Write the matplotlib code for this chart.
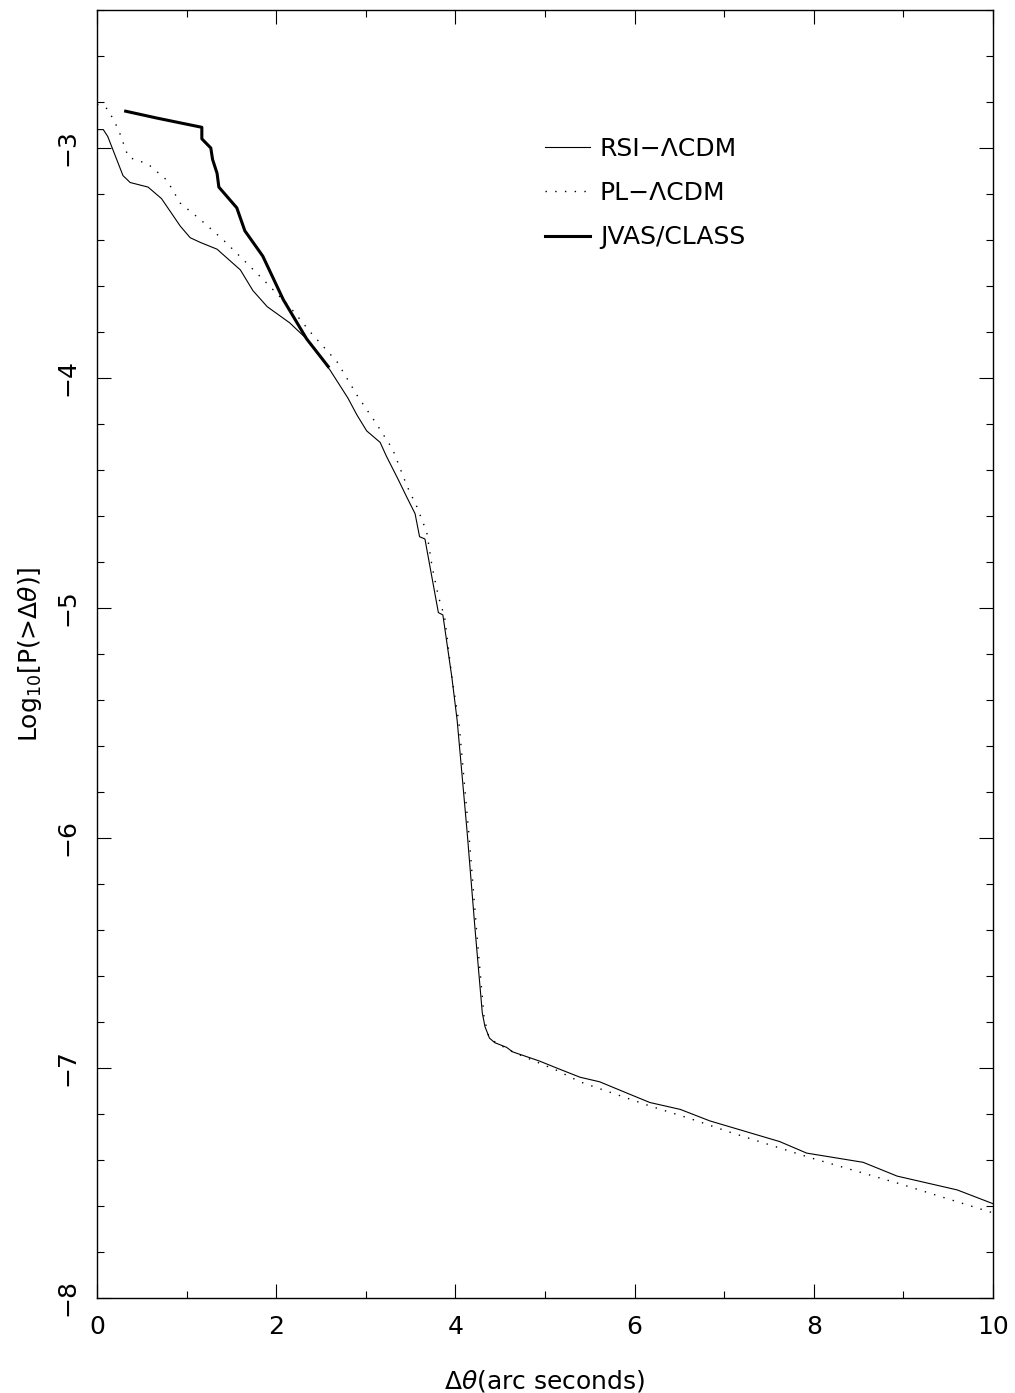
import matplotlib
matplotlib.use('Agg')
import matplotlib.pyplot as plt
from matplotlib.ticker import MultipleLocator

# RSI-LCDM model (thin solid)
rsi_x = [0, 0.07, 0.12, 0.18, 0.29, 0.37, 0.57, 0.72, 0.93, 1.04, 1.15, 1.34, 1.60, 1.74,
         1.90, 2.15, 2.34, 2.60, 2.80, 2.90, 3.01, 3.16, 3.23, 3.36, 3.46, 3.55, 3.60,
         3.66, 3.81, 3.86, 3.96, 4.02, 4.13, 4.22, 4.30, 4.33, 4.38, 4.44, 4.57, 4.64,
         4.94, 5.13, 5.39, 5.61, 5.92, 6.17, 6.51, 6.84, 7.10, 7.62, 7.92, 8.55, 8.93,
         9.60, 10.0]
rsi_y = [-2.92, -2.92, -2.95, -3.01, -3.12, -3.15, -3.17, -3.22, -3.34, -3.39, -3.41,
         -3.44, -3.53, -3.62, -3.69, -3.76, -3.83, -3.965, -4.087, -4.16, -4.23, -4.28,
         -4.34, -4.44, -4.52, -4.59, -4.69, -4.70, -5.02, -5.03, -5.30, -5.49, -5.97,
         -6.40, -6.76, -6.82, -6.87, -6.89, -6.91, -6.93, -6.97, -7.00, -7.04, -7.06,
         -7.11, -7.15, -7.18, -7.23, -7.26, -7.32, -7.37, -7.41, -7.47, -7.53, -7.59]

# PL-LCDM model (dotted)
pl_x = [0, 0.12, 0.24, 0.35, 0.57, 0.78, 0.93, 1.15, 1.41, 1.67, 1.90, 2.15, 2.38, 2.68,
        2.91, 3.12, 3.30, 3.46, 3.57, 3.68, 3.74, 3.81, 3.88, 3.96, 4.04, 4.15, 4.24,
        4.32, 4.37, 4.45, 4.64, 5.13, 5.39, 5.61, 6.17, 6.62, 7.07, 7.96, 8.93, 10.0]
pl_y = [-2.81, -2.83, -2.92, -3.04, -3.07, -3.14, -3.24, -3.31, -3.40, -3.50, -3.59,
        -3.69, -3.80, -3.93, -4.08, -4.20, -4.31, -4.47, -4.56, -4.67, -4.82, -4.95,
        -5.04, -5.30, -5.50, -5.98, -6.42, -6.78, -6.86, -6.89, -6.93, -7.01, -7.06,
        -7.09, -7.165, -7.22, -7.28, -7.39, -7.50, -7.63]

# JVAS/CLASS observed (thick solid)
jv_x = [0.32, 0.67, 1.17, 1.17, 1.27, 1.29, 1.34, 1.36, 1.56, 1.65, 1.85, 2.08, 2.34, 2.58]
jv_y = [-2.84, -2.87, -2.91, -2.96, -3.00, -3.05, -3.11, -3.17, -3.26, -3.36, -3.47,
        -3.66, -3.83, -3.95]

plt.rcParams['font.family'] = ['DejaVu Sans']
plt.rcParams['mathtext.fontset'] = 'dejavusans'

fig = plt.figure(figsize=(10.15, 13.93), dpi=100)
ax = fig.add_axes([97 / 1015, 1 - 1298 / 1393, 896 / 1015, 1288 / 1393])

ax.plot(rsi_x, rsi_y, color='black', lw=0.8, label='RSI\u2212\u039bCDM')
ax.plot(pl_x, pl_y, color='black', lw=1.0, linestyle=(0, (1, 6)), label='PL\u2212\u039bCDM')
ax.plot(jv_x, jv_y, color='black', lw=2.2, label='JVAS/CLASS')

ax.set_xlim(0, 10)
ax.set_ylim(-8, -2.4)

ax.xaxis.set_major_locator(MultipleLocator(2))
ax.xaxis.set_minor_locator(MultipleLocator(1))
ax.yaxis.set_major_locator(MultipleLocator(1))
ax.yaxis.set_minor_locator(MultipleLocator(0.2))
ax.tick_params(which='both', direction='in', top=True, right=True, width=0.8)
ax.tick_params(which='major', length=10)
ax.tick_params(which='minor', length=5)
ax.tick_params(axis='x', labelsize=18, pad=12)
ax.tick_params(axis='y', labelsize=18, pad=13, labelrotation=90)
for lab in ax.get_yticklabels():
    lab.set_va('center')
for s in ax.spines.values():
    s.set_linewidth(1.0)

ax.set_xlabel(r'$\Delta\theta$(arc seconds)', fontsize=18)
ax.xaxis.set_label_coords(0.5, -0.054)
ax.set_ylabel(r'Log$_{10}$[P(>$\Delta\theta$)]', fontsize=18, va='center')
ax.yaxis.set_label_coords(-0.075, 0.5)

ax.legend(loc='upper left', bbox_to_anchor=(0.5, 0.9015), frameon=False, fontsize=18,
          handlelength=1.8, handletextpad=0.4, labelspacing=0.81, borderpad=0,
          borderaxespad=0)

fig.savefig('out.png', dpi=100)
